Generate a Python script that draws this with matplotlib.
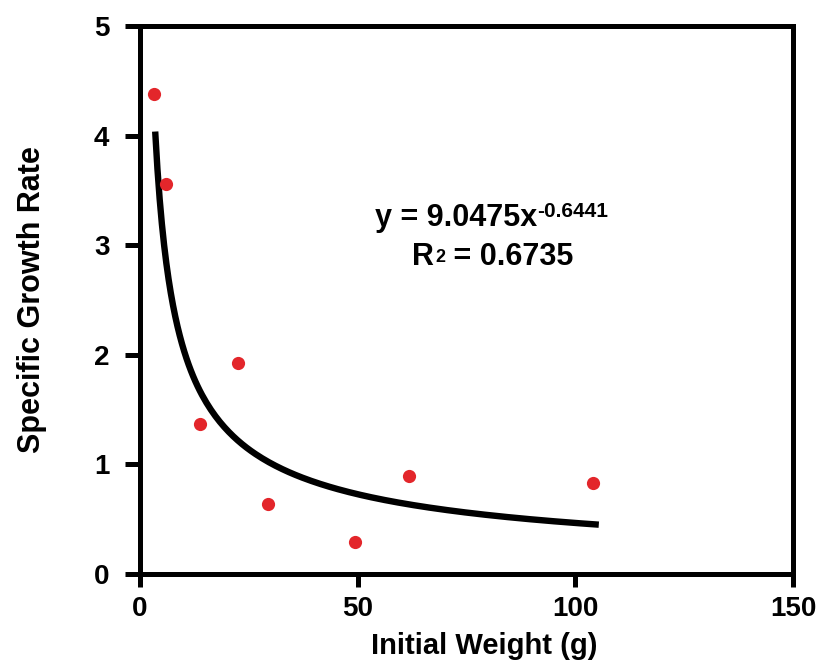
import matplotlib
matplotlib.use("Agg")
import matplotlib.pyplot as plt
import numpy as np

initial_weight = np.array([3.2, 6.0, 13.8, 22.5, 29.4, 49.4, 61.8, 104.1])
growth_rate = np.array([4.38, 3.56, 1.37, 1.93, 0.64, 0.29, 0.89, 0.83])

# power trendline as printed on the chart, drawn over the range it covers
coef_a = 9.0475
coef_b = -0.6441
r_squared = 0.6735
trend_range = (3.5, 105.4)

x_ticks = [0, 50, 100, 150]
y_ticks = [0, 1, 2, 3, 4, 5]

plt.rcParams["font.family"] = ["Liberation Sans", "DejaVu Sans"]
plt.rcParams["font.weight"] = "bold"

fig = plt.figure(figsize=(8.18, 6.64), dpi=100)
ax = fig.add_axes([0.1711, 0.1355, 0.7983, 0.8253])

xs = np.linspace(*trend_range, 200)
ax.plot(xs, coef_a * xs ** coef_b, color="black", linewidth=4.6, solid_capstyle="butt", zorder=2)
ax.plot(initial_weight, growth_rate, "o", color="#e3262b", markersize=9.5, markeredgewidth=0, zorder=3)

ax.set_xlim(0, 150)
ax.set_ylim(0, 5)
ax.set_xticks(x_ticks)
ax.set_yticks(y_ticks)
for s in ax.spines.values():
    s.set_linewidth(3.6)
ax.tick_params(axis="x", direction="out", length=9, width=3.6, labelsize=20, pad=7)
ax.tick_params(axis="y", direction="out", length=11, width=3.6, labelsize=20, pad=11)
for lab in ax.get_xticklabels() + ax.get_yticklabels():
    lab.set_fontweight("bold")

ax.set_xlabel("Initial Weight (g)", fontsize=21, fontweight="bold", labelpad=10)
ax.xaxis.set_label_coords(0.528, -0.105)
ax.set_ylabel("Specific Growth Rate", fontsize=22, fontweight="bold", labelpad=34)

eq_base = 3.18
eq = ax.text(54.0, eq_base, f"y = {coef_a:.4f}x", fontsize=22, fontweight="bold",
             ha="left", va="baseline")
ax.annotate(f"{coef_b:.4f}", xy=(1.0, eq_base + 0.075), xycoords=(eq, "data"),
            fontsize=15, fontweight="bold", ha="left", va="baseline")

r2_base = 2.82
r2 = ax.text(62.5, r2_base, "R", fontsize=22, fontweight="bold", ha="left", va="baseline")
sup2 = ax.annotate("2", xy=(1.0, r2_base + 0.03), xycoords=(r2, "data"), xytext=(1, 0),
                   textcoords="offset points", fontsize=13, fontweight="bold",
                   ha="left", va="baseline")
ax.annotate(f" = {r_squared:.4f}", xy=(1.0, r2_base), xycoords=(sup2, "data"),
            fontsize=22, fontweight="bold", ha="left", va="baseline")

fig.savefig("out.png", dpi=100)
